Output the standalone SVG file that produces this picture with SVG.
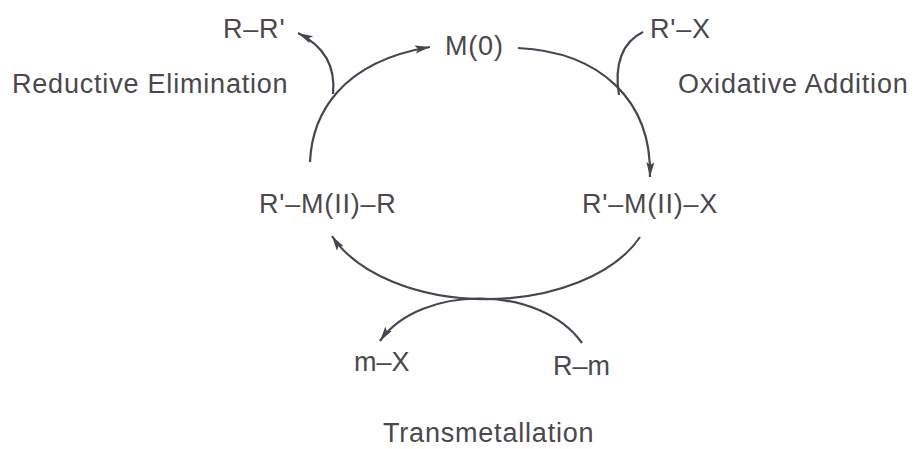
<svg xmlns="http://www.w3.org/2000/svg" width="917" height="449" viewBox="0 0 917 449">
<style>
text{font-family:"Liberation Sans",Arial,sans-serif;font-size:27px;fill:#4b474e;letter-spacing:0.8px}
.c{fill:none;stroke:#4a4450;stroke-width:2.2}
</style>
<defs>
<marker id="ah" markerUnits="userSpaceOnUse" markerWidth="16" markerHeight="10" refX="15" refY="4" orient="auto">
<path d="M0,0 L15,4 L0,8 L3,4 z" fill="#4a4450"/>
</marker>
</defs>
<rect width="917" height="449" fill="#fff"/>
<g id="connectors">
<path class="c" d="M310 162 C312 115 340 62 430 47" marker-end="url(#ah)"/>
<path class="c" d="M333 94 C336 65 322 45 298 33" marker-end="url(#ah)"/>
<path class="c" d="M518 48 C600 52 652 100 650 177" marker-end="url(#ah)"/>
<path class="c" d="M643 32 C622 42 614 65 619 95"/>
<path class="c" d="M640 237 A166 100 0 0 1 332 236" marker-end="url(#ah)"/>
<path class="c" d="M582 343 C540 284 420 284 380 341" marker-end="url(#ah)"/>
</g>
<g id="n-RR"><text x="223" y="38">R–R'</text></g>
<g id="n-M0"><text x="445" y="55">M(0)</text></g>
<g id="n-RX"><text x="650" y="38">R'–X</text></g>
<g id="l-RE"><text x="12" y="93">Reductive Elimination</text></g>
<g id="l-OA"><text x="678" y="93">Oxidative Addition</text></g>
<g id="n-RMR"><text x="259" y="213">R'–M(II)–R</text></g>
<g id="n-RMX"><text x="582" y="213">R'–M(II)–X</text></g>
<g id="n-mX"><text x="354" y="371" style="letter-spacing:0">m–X</text></g>
<g id="n-Rm"><text x="553" y="375" style="letter-spacing:0">R–m</text></g>
<g id="l-TM"><text x="383" y="442">Transmetallation</text></g>
</svg>
